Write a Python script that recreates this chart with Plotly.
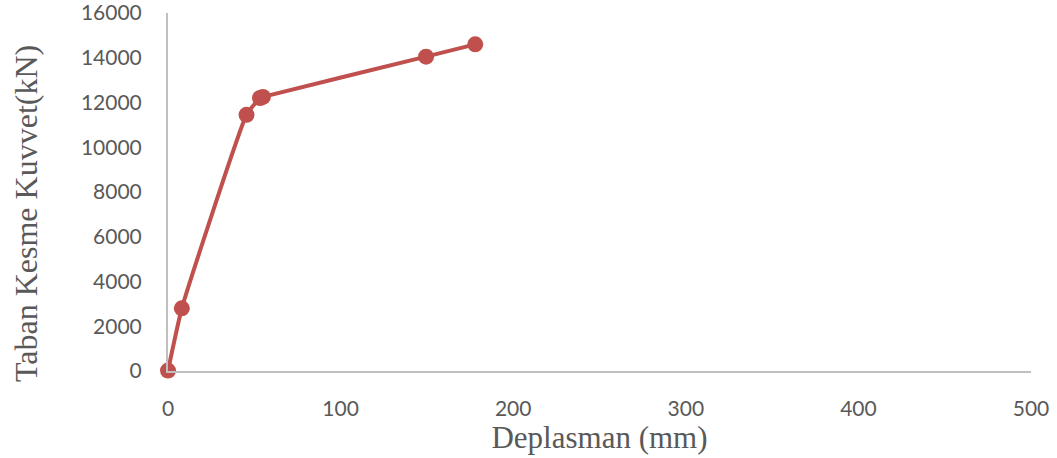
import plotly.graph_objects as go

# Base shear vs. displacement (pushover curve)
deplasman_mm = [0, 8, 45.5, 53.3, 55, 149.5, 178]
taban_kesme_kN = [20, 2800, 11450, 12200, 12250, 14050, 14600]

x_ticks = [0, 100, 200, 300, 400, 500]
y_ticks = [0, 2000, 4000, 6000, 8000, 10000, 12000, 14000, 16000]

red = "#C0504D"
grey_text = "#595959"
axis_grey = "#BFBFBF"

W, H = 1057, 458
M_L, M_R, M_T, M_B = 168, 26, 13, 87
plot_w = W - M_L - M_R
plot_h = H - M_T - M_B

fig = go.Figure()
fig.add_trace(go.Scatter(
    x=deplasman_mm,
    y=taban_kesme_kN,
    mode="lines+markers",
    line=dict(color=red, width=4, shape="spline", smoothing=0.4),
    marker=dict(color=red, size=16),
    cliponaxis=False,
    showlegend=False,
))

tick_font = dict(family="Lato, 'Open Sans', sans-serif", size=21, color=grey_text)
title_font = dict(family="'Liberation Serif', 'Times New Roman', serif", size=31, color=grey_text)

fig.update_xaxes(
    range=[0, 500],
    tickvals=x_ticks,
    ticktext=[str(v) for v in x_ticks],
    showgrid=False,
    zeroline=False,
    showline=True,
    linecolor=axis_grey,
    linewidth=2,
    ticks="",
    ticklabelstandoff=18,
    ticklabeloverflow="allow",
    tickfont=tick_font,
    title=dict(text="Deplasman (mm)", font=title_font, standoff=6),
)
fig.update_yaxes(
    range=[0, 16000],
    tickvals=y_ticks,
    ticktext=[str(v) for v in y_ticks],
    showgrid=False,
    zeroline=False,
    showline=True,
    linecolor=axis_grey,
    linewidth=2,
    ticks="",
    ticklabelstandoff=20,
    ticklabeloverflow="allow",
    tickfont=tick_font,
)

# Vertical axis title, placed as a rotated annotation left of the tick labels
fig.add_annotation(
    text="Taban Kesme Kuvvet(kN)",
    xref="paper", yref="paper",
    x=(26 - M_L) / plot_w,
    y=(H - M_B - 214) / plot_h,
    xanchor="center", yanchor="middle",
    textangle=-90,
    showarrow=False,
    font=dict(family="'Liberation Serif', 'Times New Roman', serif", size=32, color=grey_text),
)

fig.update_layout(
    width=W,
    height=H,
    margin=dict(l=M_L, r=M_R, t=M_T, b=M_B, autoexpand=False),
    paper_bgcolor="white",
    plot_bgcolor="white",
)

fig.write_html("out.html")
